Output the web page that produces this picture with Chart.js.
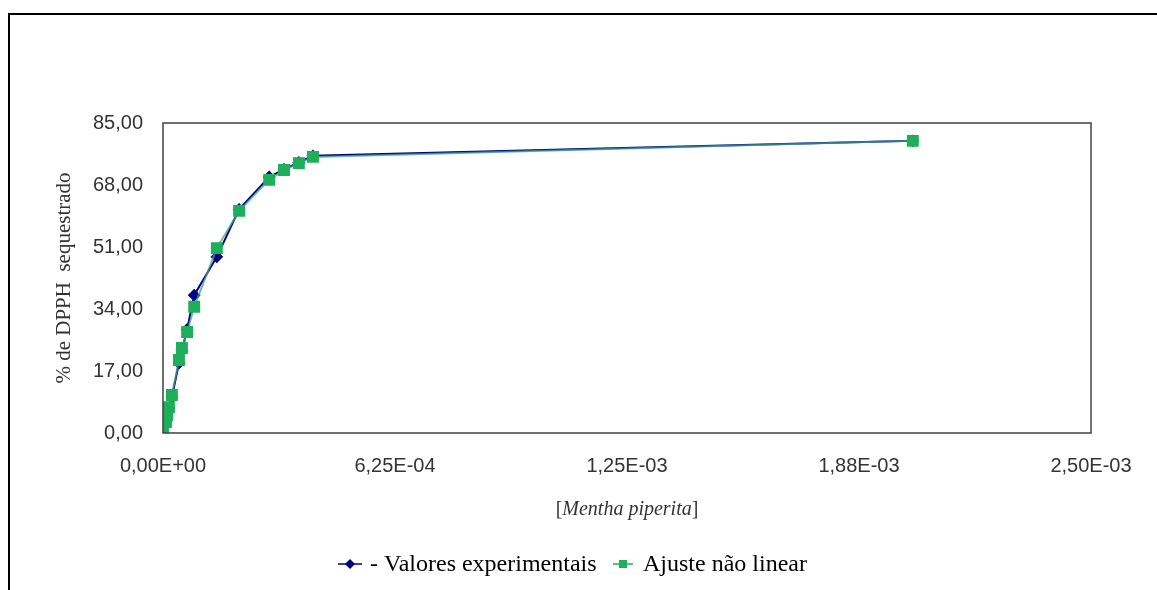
<!DOCTYPE html>
<html>
<head>
<meta charset="utf-8">
<script src="https://cdn.jsdelivr.net/npm/chart.js@4.4.0/dist/chart.umd.min.js"></script>
<style>
  html, body { margin: 0; padding: 0; background: #fff; overflow: hidden; }
  #frame {
    position: absolute; left: 8px; top: 13px; width: 1300px; height: 700px;
    border-left: 2px solid #000; border-top: 2px solid #000;
  }
  #wrap { position: absolute; left: 0; top: 0; width: 1157px; height: 590px; }
</style>
</head>
<body>
<div id="frame"></div>
<div id="wrap"><canvas id="chart" width="1157" height="590"></canvas></div>
<script>
// [Mentha piperita] concentrations
const concentrations = [0, 0.000008, 0.000011, 0.000016, 0.000024, 0.000043, 0.000051, 0.000065,
    0.000084, 0.000145, 0.000205, 0.000286, 0.000326, 0.000366, 0.000404, 0.00202];
// % DPPH sequestered
const experimental = [0, 3.2, 5.1, 6.8, 9.8, 19.2, 22.6, 28.4, 37.8, 48.3, 61.3, 70.2, 72.3, 74.2, 76.0, 80.1];
const fitted = [0, 3.0, 4.9, 7.1, 10.4, 20.0, 23.3, 27.7, 34.6, 50.7, 60.9, 69.4, 72.1, 74.0, 75.7, 80.1];

const xTickLabels = ["0,00E+00", "6,25E-04", "1,25E-03", "1,88E-03", "2,50E-03"];
const yTickLabels = ["0,00", "17,00", "34,00", "51,00", "68,00", "85,00"];

const seriesNames = ["- Valores experimentais", "Ajuste não linear"];

const navy = "#000080";
const green = "#1fae5a";

const toPoints = (ys) => ys.map((y, i) => ({ x: concentrations[i], y }));

// plot box drawn around the chart area
const boxPlugin = {
    id: "box",
    afterDatasetsDraw(chart) {
        const { ctx, chartArea: a } = chart;
        ctx.save();
        ctx.strokeStyle = "#404040";
        ctx.lineWidth = 1.5;
        ctx.strokeRect(a.left, a.top, a.right - a.left, a.bottom - a.top);
        ctx.restore();
    }
};

// x title with italic species name
const xTitlePlugin = {
    id: "xTitle",
    afterDraw(chart) {
        const { ctx, chartArea: a } = chart;
        const parts = [
            ["[", "20px 'Liberation Serif'"],
            ["Mentha piperita", "italic 20px 'Liberation Serif'"],
            ["]", "20px 'Liberation Serif'"]
        ];
        ctx.save();
        ctx.fillStyle = "#333";
        ctx.textBaseline = "middle";
        let total = 0;
        parts.forEach(([t, f]) => { ctx.font = f; total += ctx.measureText(t).width; });
        let x = (a.left + a.right) / 2 - total / 2;
        parts.forEach(([t, f]) => {
            ctx.font = f;
            ctx.fillText(t, x, 510);
            x += ctx.measureText(t).width;
        });
        ctx.restore();
    }
};

// legend with line + marker like the spreadsheet legend
const legendPlugin = {
    id: "customLegend",
    afterDraw(chart) {
        const { ctx } = chart;
        const y = 564;
        ctx.save();
        ctx.font = "24px 'Liberation Serif'";
        ctx.textBaseline = "middle";

        ctx.strokeStyle = navy;
        ctx.lineWidth = 1.5;
        ctx.beginPath(); ctx.moveTo(338, y); ctx.lineTo(362, y); ctx.stroke();
        ctx.fillStyle = navy;
        ctx.beginPath();
        ctx.moveTo(350, y - 5); ctx.lineTo(355, y); ctx.lineTo(350, y + 5); ctx.lineTo(345, y);
        ctx.closePath(); ctx.fill();
        ctx.fillStyle = "#000";
        ctx.fillText(seriesNames[0], 370, y + 1);

        ctx.strokeStyle = green;
        ctx.beginPath(); ctx.moveTo(613, y); ctx.lineTo(633, y); ctx.stroke();
        ctx.fillStyle = green;
        ctx.fillRect(619, y - 4, 8, 8);
        ctx.fillStyle = "#000";
        ctx.fillText(seriesNames[1], 643, y + 1);
        ctx.restore();
    }
};

new Chart(document.getElementById("chart"), {
    type: "line",
    data: {
        datasets: [
            {
                label: seriesNames[0],
                data: toPoints(experimental),
                borderColor: navy,
                backgroundColor: navy,
                borderWidth: 2,
                pointStyle: "rectRot",
                pointRadius: 5,
                pointHoverRadius: 5,
                order: 1
            },
            {
                label: seriesNames[1],
                data: toPoints(fitted),
                borderColor: "rgba(70,160,140,0.75)",
                backgroundColor: green,
                pointBorderColor: green,
                borderWidth: 2,
                pointStyle: "rect",
                pointRadius: 7,
                pointHoverRadius: 7,
                order: 0
            }
        ]
    },
    options: {
        responsive: false,
        animation: false,
        devicePixelRatio: 1,
        layout: { padding: { left: 0, top: 123, right: 66, bottom: 0 } },
        plugins: { legend: { display: false }, tooltip: { enabled: false } },
        scales: {
            x: {
                type: "linear",
                min: 0,
                max: 0.0025,
                grid: { display: false, drawTicks: false },
                border: { display: false },
                ticks: {
                    stepSize: 0.000625,
                    padding: 21,
                    maxRotation: 0,
                    autoSkip: false,
                    color: "#333",
                    font: { family: "'Liberation Sans'", size: 20 },
                    callback: (v, i) => xTickLabels[i]
                },
                afterFit: (s) => { s.height = 157; }
            },
            y: {
                min: 0,
                max: 85,
                grid: { display: false, drawTicks: false },
                border: { display: false },
                ticks: {
                    stepSize: 17,
                    padding: 20,
                    color: "#333",
                    font: { family: "'Liberation Sans'", size: 20 },
                    callback: (v, i) => yTickLabels[i]
                },
                title: {
                    display: true,
                    text: "% de DPPH  sequestrado",
                    color: "#333",
                    font: { family: "'Liberation Serif'", size: 21 },
                    padding: { top: 52, bottom: 0 }
                },
                afterFit: (s) => { s.width = 163; }
            }
        }
    },
    plugins: [boxPlugin, xTitlePlugin, legendPlugin]
});
</script>
</body>
</html>
